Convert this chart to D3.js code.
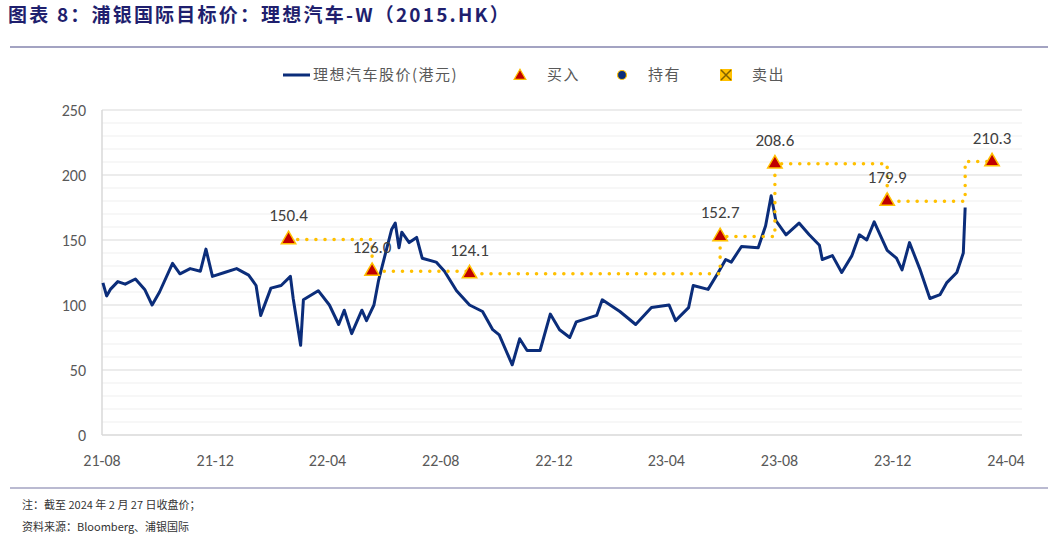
<!DOCTYPE html>
<html><head><meta charset="utf-8">
<script src="https://cdn.jsdelivr.net/npm/d3@7"></script>
<style>body{margin:0;background:#fff;font-family:"Noto Sans CJK SC","Noto Sans",sans-serif}</style>
</head><body><svg id="c" width="1048" height="536"></svg>
<script>
const priceDates=["2021-08-02","2021-08-06","2021-08-10","2021-08-18","2021-08-26","2021-09-06","2021-09-16","2021-09-24","2021-10-02","2021-10-16","2021-10-24","2021-11-04","2021-11-15","2021-11-21","2021-11-28","2021-12-11","2021-12-24","2022-01-06","2022-01-14","2022-01-19","2022-01-30","2022-02-10","2022-02-20","2022-02-23","2022-03-03","2022-03-06","2022-03-22","2022-04-03","2022-04-13","2022-04-19","2022-04-27","2022-05-08","2022-05-13","2022-05-21","2022-05-26","2022-06-09","2022-06-13","2022-06-17","2022-06-20","2022-06-28","2022-07-06","2022-07-12","2022-07-27","2022-08-05","2022-08-18","2022-09-01","2022-09-15","2022-09-26","2022-10-03","2022-10-17","2022-10-25","2022-11-02","2022-11-16","2022-11-27","2022-12-07","2022-12-18","2022-12-25","2023-01-16","2023-01-22","2023-02-10","2023-02-27","2023-03-16","2023-04-04","2023-04-11","2023-04-25","2023-04-30","2023-05-16","2023-05-27","2023-06-04","2023-06-10","2023-06-21","2023-07-09","2023-07-17","2023-07-23","2023-07-28","2023-08-08","2023-08-22","2023-09-02","2023-09-13","2023-09-16","2023-09-27","2023-10-07","2023-10-18","2023-10-26","2023-11-03","2023-11-11","2023-11-25","2023-12-05","2023-12-11","2023-12-19","2023-12-30","2024-01-10","2024-01-21","2024-01-28","2024-02-08","2024-02-15","2024-02-17"];
const priceValues=[117,107,112,118,116,120,112,100,110,132,124,128,126,143,122,125,128,123,115,92,113,115,122,105,69,104,111,100,85,96,78,96,88,100,119,158,163,144,156,148,152,136,133,126,111,100,95,81,77,54,74,65,65,93,81,75,87,92,104,95,85,98,100,88,98,115,112,125,135,133,145,144,161,184,165,154,163,154,146,135,138,125,138,154,150,164,142,136,127,148,128,105,108,117,125,140,175];
const targetDates=["2022-02-18","2022-05-19","2022-09-01","2023-05-29","2023-07-27","2023-11-25","2024-03-17"];
const targetValues=[150.4,126.0,124.1,152.7,208.6,179.9,210.3];
const stepEndDate="2024-02-17";
const xTicks=["2021-08-01","2021-12-01","2022-04-01","2022-08-01","2022-12-01","2023-04-01","2023-08-01","2023-12-01","2024-04-01"];
const yTicks=[0,50,100,150,200,250];

const p=d3.timeParse("%Y-%m-%d");
const svg=d3.select("#c");
const L=102,R=1022,T=110,B=435;
const x=d3.scaleTime().domain([p("2021-08-01"),p("2024-04-01")]).range([L,1006]);
const y=d3.scaleLinear().domain([0,250]).range([B,T]);
const numFont="Carlito,Calibri,'Liberation Sans',sans-serif";

svg.append("text").attr("x",8).attr("y",22).attr("fill","#1f1f6e").attr("font-size",19).attr("font-weight","bold").attr("letter-spacing",2.2).text("图表 8：浦银国际目标价：理想汽车-W（2015.HK）");
svg.append("line").attr("x1",10).attr("x2",1048).attr("y1",47).attr("y2",47).attr("stroke","#a3a3c2").attr("stroke-width",2);
svg.append("line").attr("x1",10).attr("x2",1048).attr("y1",488).attr("y2",488).attr("stroke","#a3a3c2").attr("stroke-width",1.5);
svg.append("text").attr("x",22).attr("y",509).attr("font-size",11).attr("fill","#333").text("注：截至 2024 年 2 月 27 日收盘价；");
svg.append("text").attr("x",22).attr("y",531).attr("font-size",11).attr("fill","#333").text("资料来源：Bloomberg、浦银国际");

const minor=d3.range(0,251,10);
svg.append("g").selectAll("line").data(minor).join("line").attr("x1",L).attr("x2",R)
 .attr("y1",d=>y(d)).attr("y2",d=>y(d)).attr("stroke",d=>d%50===0?"#d9d9d9":"#efefef").attr("stroke-width",d=>d===0?1.5:1);
svg.append("line").attr("x1",L).attr("x2",L).attr("y1",T).attr("y2",B).attr("stroke","#d9d9d9").attr("stroke-width",1.5);
svg.append("g").selectAll("text").data(yTicks).join("text").attr("x",86).attr("y",d=>y(d)+6).attr("text-anchor","end")
 .attr("font-size",16).attr("fill","#595959").attr("font-family",numFont).text(d=>d);
svg.append("g").selectAll("text").data(xTicks).join("text").attr("x",d=>x(p(d))).attr("y",466).attr("text-anchor","middle")
 .attr("font-size",16).attr("fill","#595959").attr("font-family",numFont).text(d=>d3.timeFormat("%y-%m")(p(d)));

const pts=priceDates.map((d,i)=>[p(d),priceValues[i]]);
svg.append("path").datum(pts).attr("fill","none").attr("stroke","#0b2d7a").attr("stroke-width",3).attr("stroke-linejoin","round")
 .attr("d",d3.line().x(d=>x(d[0])).y(d=>y(d[1])));

const steps=[];
targetDates.forEach((d,i)=>{
  steps.push([p(d),targetValues[i]]);
  if(i<targetDates.length-1){
    const nd=i===targetDates.length-2?p(stepEndDate):p(targetDates[i+1]);
    steps.push([nd,targetValues[i]]);
    steps.push([nd,targetValues[i+1]]);
  }
});
svg.append("path").datum(steps).attr("fill","none").attr("stroke","#ffc000").attr("stroke-width",3.5)
 .attr("stroke-dasharray","0.1 9").attr("stroke-linecap","round").attr("d",d3.line().x(d=>x(d[0])).y(d=>y(d[1])));
const tri=d3.symbol().type(d3.symbolTriangle).size(90);
targetDates.forEach((d,i)=>{
  const cx=x(p(d)),cy=y(targetValues[i]);
  svg.append("path").attr("d",tri).attr("transform",`translate(${cx},${cy})`).attr("fill","#c00000").attr("stroke","#ffc000").attr("stroke-width",1.5);
  svg.append("text").attr("x",cx).attr("y",cy-18).attr("text-anchor","middle").attr("font-size",17).attr("fill","#404040")
   .attr("font-family",numFont).text(targetValues[i].toFixed(1));
});

const lg=svg.append("g").attr("font-size",15).attr("fill","#595959").attr("letter-spacing",1.5);
lg.append("line").attr("x1",283).attr("x2",310).attr("y1",75).attr("y2",75).attr("stroke","#0b2d7a").attr("stroke-width",3);
lg.append("text").attr("x",313).attr("y",80).text("理想汽车股价(港元)");
lg.append("path").attr("d",d3.symbol().type(d3.symbolTriangle).size(60)).attr("transform","translate(520,76)").attr("fill","#c00000").attr("stroke","#ffc000").attr("stroke-width",1.2);
lg.append("text").attr("x",547).attr("y",80).text("买入");
lg.append("circle").attr("cx",622).attr("cy",75).attr("r",4.5).attr("fill","#0b2d7a").attr("stroke","#ffc000").attr("stroke-width",1.2);
lg.append("text").attr("x",648).attr("y",80).text("持有");
lg.append("rect").attr("x",720).attr("y",69).attr("width",12).attr("height",12).attr("fill","#ffc000");
lg.append("path").attr("d","M721,70L731,80M731,70L721,80").attr("stroke","#7f6000").attr("stroke-width",1.5);
lg.append("text").attr("x",752).attr("y",80).text("卖出");
</script></body></html>
